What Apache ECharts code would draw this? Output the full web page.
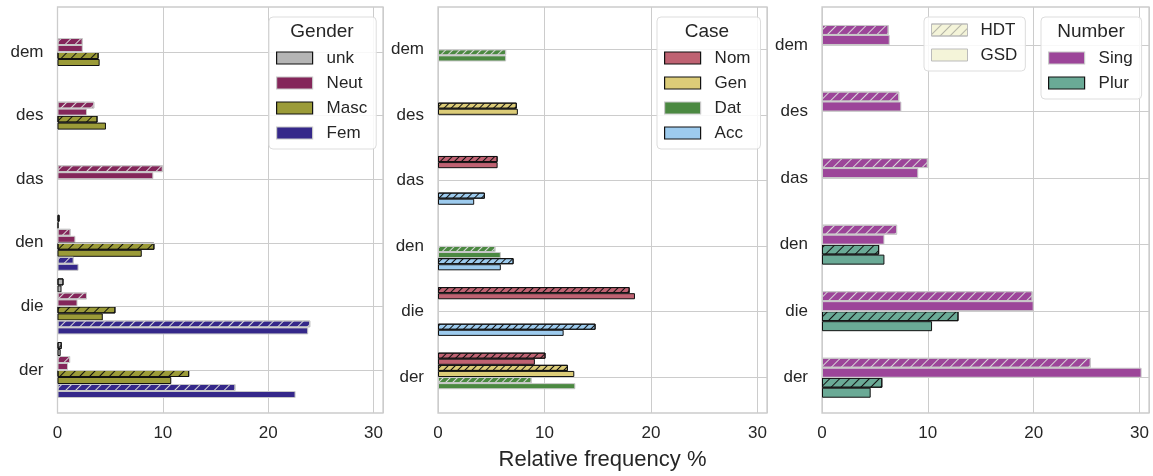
<!DOCTYPE html>
<html><head><meta charset="utf-8">
<script src="https://cdn.jsdelivr.net/npm/echarts@6/dist/echarts.min.js"></script>
<style>html,body{margin:0;padding:0;background:#fff}#c{width:1153px;height:476px}</style>
</head><body><div id="c"></div>
<script>
// ---------------- data ----------------
const categories = ['dem', 'des', 'das', 'den', 'die', 'der'];
const xTickLabels = [0, 10, 20, 30];
const xMax = 30.9;

// Gender panel (HDT = hatched, GSD = plain)
const unkHDT  = [0, 0, 0, 0.2, 0.57, 0.4];
const unkGSD  = [0, 0, 0, 0.1, 0.38, 0.3];
const neutHDT = [2.4, 3.5, 10.0, 1.25, 2.8, 1.2];
const neutGSD = [2.4, 2.8, 9.1, 1.7, 1.9, 1.0];
const mascHDT = [3.9, 3.8, 0, 9.2, 5.5, 12.5];
const mascGSD = [4.0, 4.6, 0, 8.0, 4.3, 10.8];
const femHDT  = [0, 0, 0, 1.55, 24.0, 16.9];
const femGSD  = [0, 0, 0, 2.0, 23.8, 22.6];

// Case panel
const nomHDT = [0, 0, 5.6, 0, 18.0, 10.1];
const nomGSD = [0, 0, 5.6, 0, 18.5, 9.1];
const genHDT = [0, 7.4, 0, 0, 0, 12.2];
const genGSD = [0, 7.5, 0, 0, 0, 12.8];
const datHDT = [6.4, 0, 0, 5.4, 0, 8.8];
const datGSD = [6.4, 0, 0, 5.9, 0, 12.9];
const accHDT = [0, 0, 4.4, 7.1, 14.8, 0];
const accGSD = [0, 0, 3.4, 5.9, 11.8, 0];

// Number panel
const singHDT = [6.3, 7.3, 10.0, 7.1, 19.9, 25.4];
const singGSD = [6.4, 7.5, 9.1, 5.9, 20.0, 30.2];
const plurHDT = [0, 0, 0, 5.4, 12.9, 5.7];
const plurGSD = [0, 0, 0, 5.9, 10.4, 4.6];

// ---------------- styles / layout ----------------
const FONT = '"Liberation Sans", Arial, sans-serif';
const TXT = '#262626';
const GRIDC = '#cccccc';
const DARK_EDGE = '#111111', LIGHT_EDGE = '#c8c8c8';

const panels = [
  { title: 'Gender', left: 57.5, width: 325.5, barTop: 20.2, barH: 381.6, barW: 7, hatchGap: 6,
    legend: { left: 269, top: 17, pad: [32.5, 9, 7.5, 7] }, titleXY: [322, 32],
    hues: [
      { name: 'unk',  color: '#b5b5b5', dark: true,  hdt: unkHDT,  gsd: unkGSD },
      { name: 'Neut', color: '#84265a', dark: false, hdt: neutHDT, gsd: neutGSD },
      { name: 'Masc', color: '#9b9b38', dark: true,  hdt: mascHDT, gsd: mascGSD },
      { name: 'Fem',  color: '#35288a', dark: false, hdt: femHDT,  gsd: femGSD }
    ] },
  { title: 'Case', left: 438, width: 329, barTop: 16.5, barH: 393.3, barW: 6.1, hatchGap: 3.3,
    legend: { left: 657, top: 17, pad: [32.5, 10, 7.5, 7] }, titleXY: [707, 32],
    hues: [
      { name: 'Nom', color: '#bf6272', dark: true,  hdt: nomHDT, gsd: nomGSD },
      { name: 'Gen', color: '#dccc78', dark: true,  hdt: genHDT, gsd: genGSD },
      { name: 'Dat', color: '#4b8941', dark: false, hdt: datHDT, gsd: datGSD },
      { name: 'Acc', color: '#9dcbee', dark: true,  hdt: accHDT, gsd: accGSD }
    ] },
  { title: 'Number', left: 822, width: 327, barTop: 11.7, barH: 399.3, barW: 10, hatchGap: 6,
    legend: { left: 1041, top: 17, pad: [32.5, 9, 7.5, 7] }, titleXY: [1091, 32],
    hues: [
      { name: 'Sing', color: '#9c4599', dark: false, hdt: singHDT, gsd: singGSD },
      { name: 'Plur', color: '#6aaa96', dark: true,  hdt: plurHDT, gsd: plurGSD }
    ] }
];

function hatch(color, gap) {
  return { symbol: 'rect', symbolSize: 1, dashArrayX: [1, 0], dashArrayY: [1, gap],
           rotation: -Math.PI / 4, color: color };
}
// zero-height bars are left out so they do not paint an edge line on the axis
const nz = arr => arr.map(v => (v === 0 ? null : v));

const grid = [], xAxis = [], yAxis = [], series = [], legend = [], graphic = [];

panels.forEach((p, i) => {
  grid[i] = { left: p.left, width: p.width, top: 7, height: 406, show: true,
              borderColor: GRIDC, borderWidth: 1.3, backgroundColor: 'transparent',
              containLabel: false, outerBoundsMode: 'none' };
  grid[3 + i] = { left: p.left, width: p.width, top: p.barTop, height: p.barH, show: false,
                  containLabel: false, outerBoundsMode: 'none' };
  xAxis[i] = {
    type: 'value', gridIndex: i, min: 0, max: xMax, interval: 10,
    axisLine: { show: false }, axisTick: { show: false },
    splitLine: { show: true, lineStyle: { color: GRIDC, width: 1 } },
    axisLabel: { show: true, color: TXT, fontSize: 17, fontFamily: FONT, margin: 12,
                 formatter: v => (xTickLabels.indexOf(v) >= 0 ? String(v) : '') },
    name: i === 1 ? 'Relative frequency %' : '', nameLocation: 'middle', nameGap: 36,
    nameTextStyle: { color: TXT, fontSize: 22, fontFamily: FONT }
  };
  yAxis[i] = { type: 'value', gridIndex: i, show: false, min: 0, max: 1 };
  xAxis[3 + i] = { type: 'value', gridIndex: 3 + i, min: 0, max: xMax, show: false };
  yAxis[3 + i] = {
    type: 'category', gridIndex: 3 + i, data: categories, inverse: true,
    axisLine: { show: false }, axisTick: { show: false }, splitLine: { show: false },
    axisLabel: { color: TXT, fontSize: 17, fontFamily: FONT, margin: 14 }
  };
  // horizontal grid lines at category centres (behind bars)
  series.push({
    type: 'line', xAxisIndex: 3 + i, yAxisIndex: 3 + i, data: [], z: 1, silent: true,
    markLine: { symbol: ['none', 'none'], silent: true, animation: false, label: { show: false },
                lineStyle: { color: GRIDC, width: 1, type: 'solid' },
                data: categories.map(c => ({ yAxis: c })) }
  });
  const legendData = [];
  p.hues.forEach(h => {
    const edge = h.dark ? DARK_EDGE : LIGHT_EDGE;
    const hatchCol = h.dark ? '#111111' : '#d8d8d8';
    series.push({
      name: h.name + ' HDT', type: 'bar', xAxisIndex: 3 + i, yAxisIndex: 3 + i,
      data: nz(h.hdt), barWidth: p.barW, barGap: '0%', z: 2,
      itemStyle: { color: h.color, borderColor: edge, borderWidth: 1, decal: hatch(hatchCol, p.hatchGap) }
    });
    series.push({
      name: h.name, type: 'bar', xAxisIndex: 3 + i, yAxisIndex: 3 + i,
      data: nz(h.gsd), barWidth: p.barW, barGap: '0%', z: 2,
      itemStyle: { color: h.color, borderColor: edge, borderWidth: 1 }
    });
    legendData.push({ name: h.name, itemStyle: { color: h.color, borderColor: edge, borderWidth: 1.2 } });
  });
  legend.push({
    data: legendData, orient: 'vertical', left: p.legend.left, top: p.legend.top,
    padding: p.legend.pad, itemGap: 8, itemWidth: 36, itemHeight: 12, icon: 'rect',
    backgroundColor: 'rgba(255,255,255,0.85)', borderColor: '#dddddd', borderWidth: 1, borderRadius: 4,
    textStyle: { color: TXT, fontSize: 17, fontFamily: FONT, lineHeight: 17, padding: [0, 0, 0, 9] },
    selectedMode: false, z: 10
  });
  graphic.push({ type: 'text', x: p.titleXY[0], y: p.titleXY[1], z: 100,
    style: { text: p.title, fill: TXT, font: '19px ' + FONT, textAlign: 'center', textVerticalAlign: 'middle' } });
});

// hidden grid carrying the HDT / GSD legend swatches
grid[6] = { left: 0, top: 0, width: 1, height: 1, show: false, outerBoundsMode: 'none' };
xAxis[6] = { type: 'value', gridIndex: 6, show: false };
yAxis[6] = { type: 'category', gridIndex: 6, show: false, data: ['x'] };
series.push({ name: 'HDT', type: 'bar', xAxisIndex: 6, yAxisIndex: 6, data: [],
  itemStyle: { color: '#f4f4d9', borderColor: '#bbbbbb', borderWidth: 1, decal: hatch('#b5b5a8', 6) } });
series.push({ name: 'GSD', type: 'bar', xAxisIndex: 6, yAxisIndex: 6, data: [],
  itemStyle: { color: '#f4f4d9', borderColor: '#bbbbbb', borderWidth: 1 } });
legend.push({
  data: ['HDT', 'GSD'], orient: 'vertical', left: 924, top: 17, padding: [4.5, 8, 7.5, 7],
  itemGap: 8, itemWidth: 36, itemHeight: 12, icon: 'rect',
  itemStyle: { borderWidth: 1 },
  backgroundColor: 'rgba(255,255,255,0.85)', borderColor: '#dddddd', borderWidth: 1, borderRadius: 4,
  textStyle: { color: TXT, fontSize: 17, fontFamily: FONT, lineHeight: 17, padding: [0, 0, 0, 8] },
  selectedMode: false, z: 10
});

const chart = echarts.init(document.getElementById('c'), null, { renderer: 'canvas' });
chart.setOption({
  animation: false, backgroundColor: '#ffffff',
  textStyle: { fontFamily: FONT },
  grid, xAxis, yAxis, series, legend, graphic
});
</script></body></html>
